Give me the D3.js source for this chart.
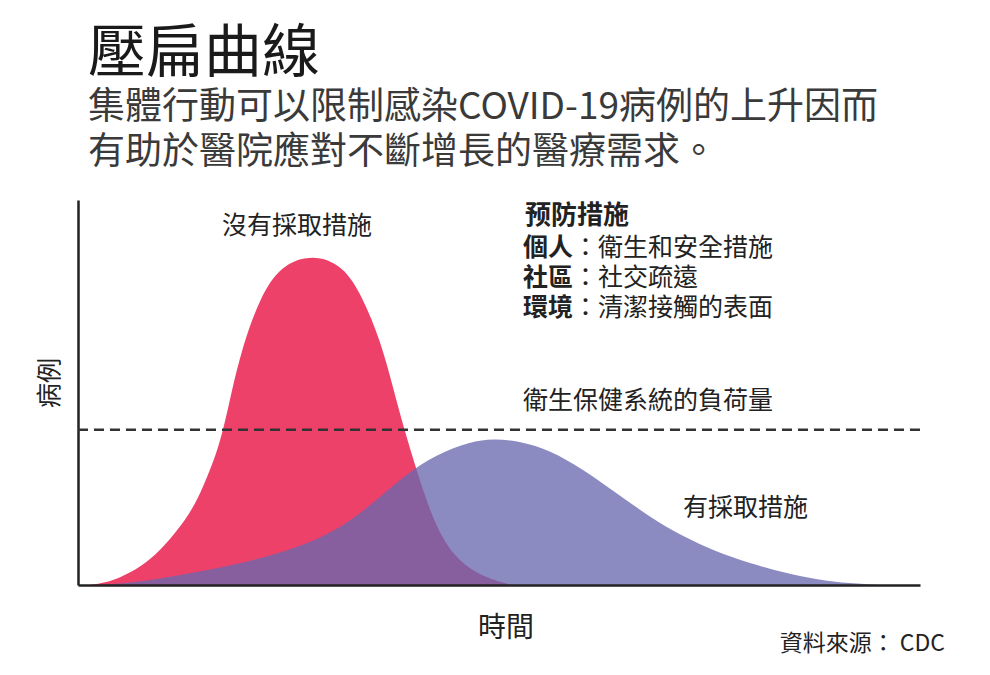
<!DOCTYPE html>
<html lang="zh-Hant">
<head>
<meta charset="UTF-8">
<title>壓扁曲線</title>
<style>
  body { margin: 0; background: #fff; }
  svg text { font-family: "Noto Sans CJK TC", "Noto Sans CJK SC", sans-serif; }
</style>
</head>
<body>
<svg width="990" height="675"></svg>
<script src="https://d3js.org/d3.v7.min.js"></script>
<script>
// time (0-100) and case values (0-100)
const noActionT = [1.4, 3.8, 6.2, 8.6, 10.9, 13.3, 14.8, 16.9, 18.1, 19.6, 21.6, 24, 27.9, 31.5, 33.8, 35.9, 37.4, 38.6, 40.3, 42.2, 44.5, 47.7, 51.5]
const noActionV = [0, 0.8, 3.1, 6.5, 11.7, 18.5, 25, 36.5, 49, 62.5, 74.5, 83, 86, 83, 74.8, 63.6, 51.5, 41.5, 29.1, 16.6, 7.5, 2.3, 0]

const withActionT = [2.6, 6.2, 10.9, 16.9, 22.8, 26.8, 30.8, 34.7, 38.6, 42.6, 46.6, 49.3, 52.5, 56.1, 60, 63.2, 65.9, 69.1, 71.9, 75.7, 79.8, 84, 87.8, 91.7, 95.2]
const withActionV = [0, 0.5, 2.1, 4.4, 7.5, 10.4, 14.3, 20.5, 28.3, 34, 37.2, 38, 37.4, 35, 30, 25, 20.8, 16, 12.6, 8.7, 5.6, 3.1, 1.4, 0.4, 0]

const capacity = 40.3

const measures = [
  ["個人", "衛生和安全措施"],
  ["社區", "社交疏遠"],
  ["環境", "清潔接觸的表面"]
]

const svg = d3.select('svg')

const x = d3.scaleLinear().domain([0, 100]).range([78, 920])
const y = d3.scaleLinear().domain([0, 100]).range([585, 200])

const area = d3.area()
  .x(d => x(d[0]))
  .y0(y(0))
  .y1(d => y(d[1]))
  .curve(d3.curveBasis)

// title
svg.append('text')
  .attr('x', 88).attr('y', 72)
  .attr('font-size', 58)
  .attr('fill', '#1a1a1a')
  .text('壓扁曲線')

const sub = ['集體行動可以限制感染COVID-19病例的上升因而', '有助於醫院應對不斷增長的醫療需求。']
sub.forEach((s, i) => {
  svg.append('text')
    .attr('x', 88).attr('y', 119 + i * 45)
    .attr('font-size', 37)
    .attr('fill', '#3a3a3a')
    .text(s)
})

// curves
svg.append('path')
  .datum(d3.zip(noActionT, noActionV))
  .attr('d', area)
  .attr('fill', '#ee4169')

svg.append('path')
  .datum(d3.zip(withActionT, withActionV))
  .attr('d', area)
  .attr('fill', 'rgb(104,104,176)')
  .attr('fill-opacity', 0.77)

// axes
svg.append('g')
  .attr('transform', `translate(0,${y(0)})`)
  .call(d3.axisBottom(x).ticks(0).tickSize(0).tickFormat(''))
  .call(g => g.select('.domain').attr('stroke', '#222').attr('stroke-width', 2.5))

svg.append('g')
  .attr('transform', `translate(${x(0)},0)`)
  .call(d3.axisLeft(y).ticks(0).tickSize(0).tickFormat(''))
  .call(g => g.select('.domain').attr('stroke', '#222').attr('stroke-width', 2.5))

// capacity line
svg.append('line')
  .attr('x1', x(0)).attr('x2', x(100))
  .attr('y1', y(capacity)).attr('y2', y(capacity))
  .attr('stroke', '#333')
  .attr('stroke-width', 2.5)
  .attr('stroke-dasharray', '10,6')

// labels
const label = (t, px, py, size, opts = {}) =>
  svg.append('text')
    .attr('x', px).attr('y', py)
    .attr('font-size', size)
    .attr('fill', opts.fill || '#222')
    .attr('font-weight', opts.weight || 'normal')
    .attr('text-anchor', opts.anchor || 'start')
    .text(t)

label('沒有採取措施', 222, 234, 25)
label('衛生保健系統的負荷量', 523, 409, 25)
label('有採取措施', 683, 516, 25)
label('時間', 506, 637, 28, { anchor: 'middle' })
label('資料來源： CDC', 945, 651, 23, { anchor: 'end' })

svg.append('text')
  .attr('transform', 'translate(58,383) rotate(-90)')
  .attr('text-anchor', 'middle')
  .attr('font-size', 25)
  .attr('fill', '#222')
  .text('病例')

label('预防措施', 525, 224, 26, { weight: 'bold' })
measures.forEach((m, i) => {
  const t = svg.append('text')
    .attr('x', 523).attr('y', 256 + i * 30)
    .attr('font-size', 25)
    .attr('fill', '#222')
  t.append('tspan').attr('font-weight', 'bold').text(m[0])
  t.append('tspan').text('：' + m[1])
})
</script>
</body>
</html>
